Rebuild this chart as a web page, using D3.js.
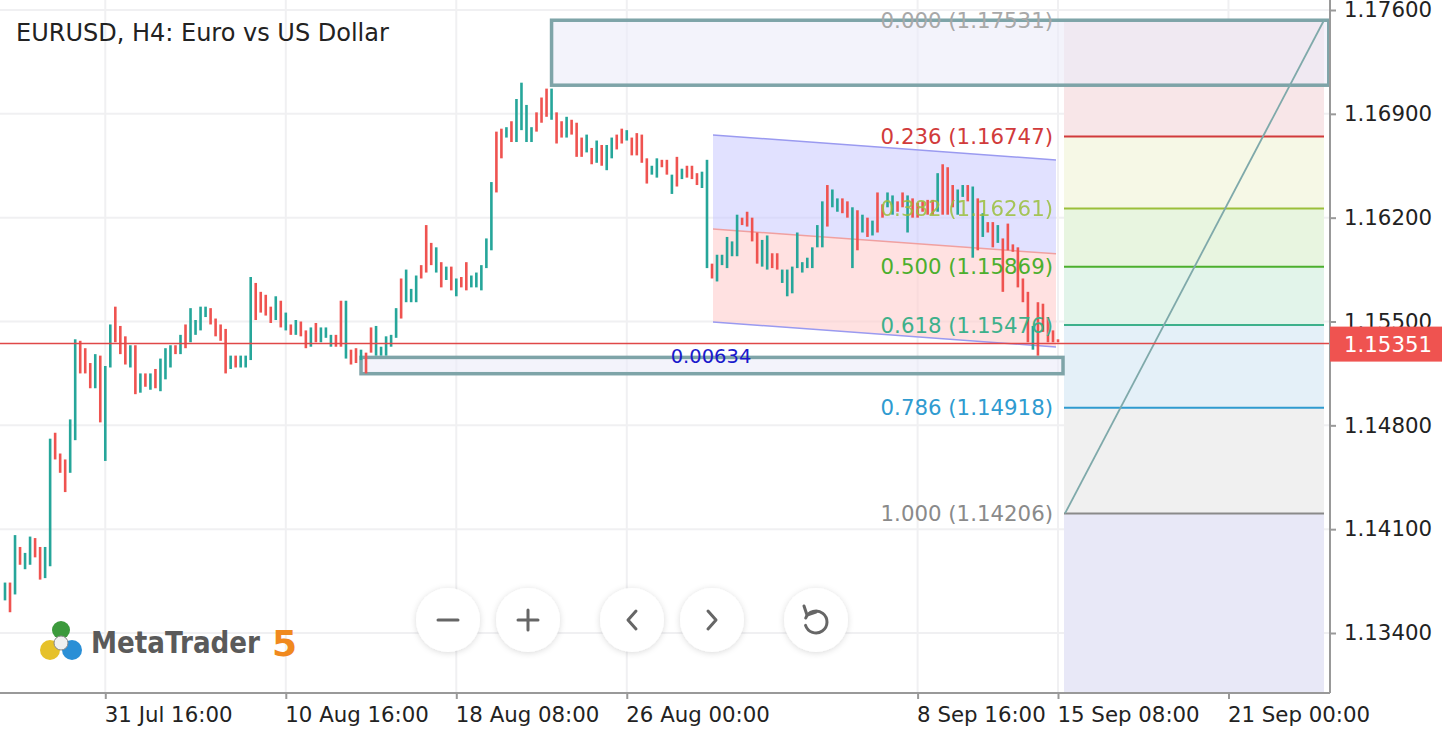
<!DOCTYPE html>
<html><head><meta charset="utf-8">
<script src="https://cdn.jsdelivr.net/npm/d3@7"></script>
<style>body{margin:0;background:#fff;overflow:hidden}svg{display:block;font-family:"DejaVu Sans",sans-serif}</style>
</head><body><svg id="c" width="1442" height="741"></svg>
<script>
// ---- data ----
const highs=[1.1374,1.1374,1.1406,1.1398,1.1394,1.1405,1.1404,1.1398,1.1398,1.1471,1.1475,1.1461,1.1457,1.1484,1.1538,1.1537,1.1532,1.1522,1.1528,1.1527,1.1520,1.1548,1.1560,1.1547,1.1540,1.1534,1.1534,1.1515,1.1515,1.1515,1.1518,1.1525,1.1532,1.1534,1.1534,1.1541,1.1548,1.1559,1.1551,1.1560,1.1560,1.1559,1.1552,1.1548,1.1545,1.1527,1.1527,1.1527,1.1527,1.1580,1.1576,1.1570,1.1568,
1.1560,1.1567,1.1564,1.1556,1.1548,1.1551,1.1550,1.1544,1.1546,1.1549,1.1546,1.1546,1.1541,1.1541,1.1564,1.1564,1.1531,1.1532,1.1531,1.1529,1.1546,1.1547,1.1533,1.1540,1.1541,1.1559,1.1579,1.1585,1.1572,1.1581,1.1588,1.1615,1.1603,1.1600,1.1590,1.1587,1.1587,1.1579,1.1580,1.1590,1.1581,1.1583,1.1588,1.1606,1.1644,1.1678,1.1680,1.1681,1.1685,1.1700,1.1711,1.1696,1.1681,1.1691,
1.1701,1.1707,1.1707,1.1691,1.1685,1.1688,1.1686,1.1684,1.1674,1.1676,1.1667,1.1672,1.1669,1.1669,1.1674,1.1676,1.1680,1.1679,1.1674,1.1677,1.1676,1.1660,1.1655,1.1660,1.1659,1.1659,1.1649,1.1661,1.1653,1.1655,1.1655,1.1650,1.1651,1.1659,1.1589,1.1595,1.1595,1.1607,1.1604,1.1622,1.1620,1.1624,1.1620,1.1610,1.1605,1.1608,1.1596,1.1596,1.1585,1.1585,1.1587,1.1610,1.1590,1.1593,
1.1600,1.1615,1.1631,1.1642,1.1639,1.1633,1.1633,1.1631,1.1627,1.1625,1.1622,1.1620,1.1618,1.1637,1.1629,1.1637,1.1635,1.1631,1.1637,1.1635,1.1633,1.1630,1.1631,1.1632,1.1632,1.1650,1.1656,1.1654,1.1642,1.1639,1.1642,1.1642,1.1641,1.1633,1.1623,1.1617,1.1617,1.1615,1.1606,1.1616,1.1602,1.1600,1.1579,1.1570,1.1547,1.1563,1.1562,1.1553,1.1544,1.1538];
const lows=[1.1362,1.1354,1.1366,1.1386,1.1383,1.1386,1.1391,1.1376,1.1377,1.1385,1.1457,1.1448,1.1435,1.1448,1.1470,1.1515,1.1515,1.1505,1.1505,1.1482,1.1456,1.1519,1.1536,1.1528,1.1521,1.1519,1.1501,1.1502,1.1506,1.1504,1.1505,1.1503,1.1511,1.1519,1.1528,1.1528,1.1532,1.1536,1.1541,1.1544,1.1553,1.1548,1.1540,1.1537,1.1515,1.1518,1.1519,1.1519,1.1519,1.1524,1.1551,1.1556,1.1554,
1.1549,1.1551,1.1546,1.1544,1.1541,1.1541,1.1540,1.1532,1.1533,1.1536,1.1536,1.1539,1.1533,1.1533,1.1533,1.1525,1.1521,1.1522,1.1524,1.1515,1.1529,1.1527,1.1527,1.1527,1.1533,1.1539,1.1552,1.1563,1.1563,1.1563,1.1579,1.1583,1.1588,1.1583,1.1573,1.1578,1.1571,1.1567,1.1573,1.1571,1.1573,1.1573,1.1571,1.1586,1.1598,1.1637,1.1660,1.1674,1.1671,1.1671,1.1679,1.1671,1.1671,1.1678,
1.1684,1.1688,1.1686,1.1670,1.1674,1.1674,1.1676,1.1661,1.1661,1.1664,1.1656,1.1657,1.1655,1.1652,1.1660,1.1666,1.1670,1.1672,1.1662,1.1662,1.1657,1.1643,1.1649,1.1647,1.1654,1.1649,1.1636,1.1641,1.1646,1.1647,1.1646,1.1642,1.1640,1.1586,1.1579,1.1577,1.1588,1.1586,1.1594,1.1594,1.1615,1.1614,1.1604,1.1589,1.1587,1.1585,1.1586,1.1585,1.1576,1.1567,1.1569,1.1586,1.1583,1.1586,
1.1586,1.1600,1.1600,1.1614,1.1627,1.1624,1.1623,1.1620,1.1586,1.1598,1.1610,1.1607,1.1608,1.1610,1.1620,1.1627,1.1622,1.1624,1.1627,1.1610,1.1620,1.1620,1.1624,1.1622,1.1622,1.1624,1.1622,1.1622,1.1627,1.1622,1.1634,1.1631,1.1593,1.1598,1.1607,1.1610,1.1600,1.1603,1.1570,1.1598,1.1597,1.1573,1.1563,1.1536,1.1531,1.1527,1.1543,1.1536,1.1536,1.1536];
const bullish="UDUDUUDDUUDDDUUDDDUDUUDDDUDUDUDUUUDUDUUUUDDDDUDUUUDDD"+"DUDUDUDDUDUUUDDUDDUDDUUUUUDUUUDDDUDUDUDDUUUUUDDUDUU"+"UUDDDUDDUDDDUDUDUUDDUDDDDUUDDUDUDDDUUDUUUUUDDDDUUDDUUUUU"+"UUUUDUUDDUDUDUDDUUDDUDDDDDUDDDUUDUDUDDUDDDDDDUDDDD";
const priceTicks=[1.176,1.169,1.162,1.155,1.148,1.141,1.134];
const dateTicks=[[20,"31 Jul 16:00"],[56,"10 Aug 16:00"],[90,"18 Aug 08:00"],[124,"26 Aug 00:00"],[182,"8 Sep 16:00"],[210,"15 Sep 08:00"],[244,"21 Sep 00:00"]];
const fibRatios=[0,0.236,0.382,0.5,0.618,0.786,1];
const fibPrices=[1.17531,1.16747,1.16261,1.15869,1.15476,1.14918,1.14206];
const fibColors=["#a8a8a8","#d13b3b","#9bbf3b","#4caf2e","#3db08b","#2f9bd0","#8a8a8a"];
const fibFills=["#f8e6e8","#f6f8e6","#e8f5e0","#e2f4ea","#e4f0f8","#f0f0f0"];
const currentPrice=1.15351;
const channel={i0:141,i1:210,top0:1.16757,top1:1.16589,mid0:1.16124,mid1:1.15956,bot0:1.15497,bot1:1.15328};
const boxTop={i0:109,i1:264,p0:1.17531,p1:1.17093};
const boxBot={i0:71,i1:211,p0:1.15258,p1:1.15148};
const rangeText="0.00634";

// ---- scales ----
const svg=d3.select("#c");
const x=d3.scaleLinear().domain([0,210]).range([5,1058]);
const y=d3.scaleLinear().domain([1.134,1.176]).range([633,10]);
const plotR=1330, plotB=693;
const F=21.3;

// grid
svg.append("g").selectAll("line").data(priceTicks).join("line")
 .attr("x1",0).attr("x2",plotR).attr("y1",d=>y(d)).attr("y2",d=>y(d)).attr("stroke","#f0f0f2").attr("stroke-width",2);
svg.append("g").selectAll("line").data(dateTicks).join("line")
 .attr("x1",d=>x(d[0])).attr("x2",d=>x(d[0])).attr("y1",0).attr("y2",plotB).attr("stroke","#f0f0f2").attr("stroke-width",2);

// fib zone
const fx0=1064, fx1=1324;
const fibG=svg.append("g");
fibFills.forEach((c,i)=>fibG.append("rect").attr("x",fx0).attr("width",fx1-fx0)
  .attr("y",y(fibPrices[i])).attr("height",y(fibPrices[i+1])-y(fibPrices[i])).attr("fill",c));
fibG.append("rect").attr("x",fx0).attr("width",fx1-fx0).attr("y",y(fibPrices[6])).attr("height",plotB-y(fibPrices[6])).attr("fill","#e8e8f7");
fibPrices.forEach((p,i)=>{
 fibG.append("line").attr("x1",fx0).attr("x2",fx1).attr("y1",y(p)).attr("y2",y(p)).attr("stroke",fibColors[i]).attr("stroke-width",2);
});

// channel
const chG=svg.append("g");
const cx0=x(channel.i0)+1, cx1=x(channel.i1)-2;
chG.append("path").attr("d",`M${cx0},${y(channel.top0)}L${cx1},${y(channel.top1)}L${cx1},${y(channel.mid1)}L${cx0},${y(channel.mid0)}Z`).attr("fill","rgba(200,200,255,0.55)");
chG.append("path").attr("d",`M${cx0},${y(channel.mid0)}L${cx1},${y(channel.mid1)}L${cx1},${y(channel.bot1)}L${cx0},${y(channel.bot0)}Z`).attr("fill","rgba(255,205,205,0.6)");
[["top","#9a9af0"],["mid","#f0a0a0"],["bot","#9a9af0"]].forEach(([k,c])=>
 chG.append("line").attr("x1",cx0).attr("x2",cx1).attr("y1",y(channel[k+"0"])).attr("y2",y(channel[k+"1"])).attr("stroke",c).attr("stroke-width",1.5));

// boxes
[boxTop,boxBot].forEach(b=>{
 svg.append("rect").attr("x",x(b.i0)).attr("y",y(b.p0)).attr("width",x(b.i1)-x(b.i0)).attr("height",y(b.p1)-y(b.p0))
  .attr("fill","rgba(235,235,248,0.6)").attr("stroke","#7ea4a8").attr("stroke-width",3.5);
});

// candles
const cg=svg.append("g");
highs.forEach((h,i)=>{
 cg.append("rect").attr("x",x(i)-1.3).attr("width",2.6).attr("y",y(h)).attr("height",Math.max(2,y(lows[i])-y(h)))
  .attr("fill",bullish[i]==="U"?"#26a69a":"#ef5350");
});

// fib diagonal
svg.append("line").attr("x1",fx0+1).attr("y1",y(fibPrices[6])).attr("x2",fx1).attr("y2",y(fibPrices[0])).attr("stroke","#7fa9aa").attr("stroke-width",1.8);

// fib labels
fibPrices.forEach((p,i)=>{
 svg.append("text").attr("x",1053).attr("y",y(p)+7.5).attr("text-anchor","end").attr("font-size",F)
  .attr("fill",fibColors[i]).attr("opacity",i==2?0.85:1).text(fibRatios[i].toFixed(3)+" ("+p.toFixed(5)+")");
});

svg.append("text").attr("x",711).attr("y",y(1.15258)+6).attr("text-anchor","middle").attr("font-size",19.5).attr("fill","#1a1acc").text(rangeText);

// current price line
svg.append("line").attr("x1",0).attr("x2",plotR).attr("y1",y(currentPrice)).attr("y2",y(currentPrice)).attr("stroke","#e04848").attr("stroke-width",1.5);

// axes
svg.append("line").attr("x1",plotR).attr("x2",plotR).attr("y1",0).attr("y2",plotB).attr("stroke","#999").attr("stroke-width",2);
svg.append("line").attr("x1",0).attr("x2",plotR).attr("y1",plotB).attr("y2",plotB).attr("stroke","#999").attr("stroke-width",2);
const yAx=svg.append("g").attr("transform",`translate(${plotR},0)`).call(d3.axisRight(y).tickValues(priceTicks).tickFormat(d3.format(".5f")).tickSize(6));
yAx.select(".domain").remove();
yAx.selectAll("line").attr("stroke","#999").attr("stroke-width",2);
yAx.selectAll("text").attr("font-size",F).attr("fill","#222").attr("x",14).attr("font-family","DejaVu Sans");
const xAx=svg.append("g").attr("transform",`translate(0,${plotB})`).call(d3.axisBottom(x).tickValues(dateTicks.map(d=>d[0])).tickFormat((d,i)=>dateTicks[i][1]).tickSize(6));
xAx.select(".domain").remove();
xAx.selectAll("line").attr("stroke","#999").attr("stroke-width",2);
xAx.selectAll("text").attr("font-size",F).attr("fill","#222").attr("text-anchor","start").attr("x",-1).attr("dy","0.95em").attr("font-family","DejaVu Sans");

// current price label
svg.append("rect").attr("x",plotR).attr("y",y(currentPrice)-17).attr("width",112).attr("height",35).attr("fill","#ef5350");
svg.append("text").attr("x",1344).attr("y",y(currentPrice)+8).attr("fill","#fff").attr("font-size",F).text(currentPrice.toFixed(5));

// title
svg.append("text").attr("x",16).attr("y",41).attr("font-size",24).attr("fill","#222").text("EURUSD, H4: Euro vs US Dollar");

// buttons
const defs=svg.append("defs");
const f=defs.append("filter").attr("id","sh").attr("x","-50%").attr("y","-50%").attr("width","200%").attr("height","200%");
f.append("feDropShadow").attr("dx",0).attr("dy",1).attr("stdDeviation",3).attr("flood-color","#000").attr("flood-opacity",0.15);
const btns=[448,528,632,712,816];
btns.forEach(bx=>svg.append("circle").attr("cx",bx).attr("cy",620).attr("r",32).attr("fill","#fff").attr("filter","url(#sh)"));
const ic=svg.append("g").attr("stroke","#666").attr("stroke-width",3).attr("fill","none").attr("stroke-linecap","round").attr("stroke-linejoin","round");
ic.append("path").attr("d","M438,620H458");
ic.append("path").attr("d","M518,620H538M528,610V630");
ic.append("path").attr("d","M636,611L628,620L636,629");
ic.append("path").attr("d","M708,611L716,620L708,629");
ic.append("path").attr("d",d3.arc()({innerRadius:11,outerRadius:11,startAngle:-1.2,endAngle:4.4}).replace(/Z$/,"")).attr("transform","translate(816,622)");
ic.append("path").attr("d","M804,606L807,615L816,612");

// logo
const lg=svg.append("g");
lg.append("circle").attr("cx",61).attr("cy",630).attr("r",9).attr("fill","#3c9a3c");
lg.append("circle").attr("cx",50).attr("cy",650).attr("r",10).attr("fill","#e6c12a");
lg.append("circle").attr("cx",72).attr("cy",650).attr("r",10).attr("fill","#2a8fd6");
lg.append("circle").attr("cx",61).attr("cy",643).attr("r",7).attr("fill","#f0f0f0").attr("stroke","#888");
svg.append("text").attr("x",91).attr("y",653).attr("font-size",30).attr("font-weight","bold").attr("fill","#5a5a5a").attr("textLength",169).attr("lengthAdjust","spacingAndGlyphs").text("MetaTrader");
svg.append("text").attr("x",272).attr("y",656).attr("font-size",36).attr("font-weight","bold").attr("fill","#f0891e").text("5");
</script></body></html>
